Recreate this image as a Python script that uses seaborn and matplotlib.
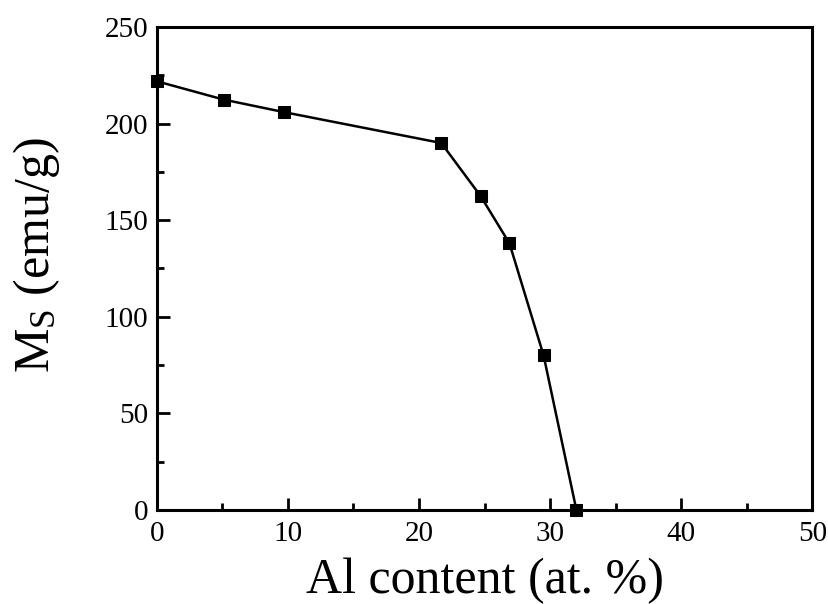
import matplotlib
matplotlib.use("Agg")
import matplotlib.pyplot as plt
import seaborn as sns
import pandas as pd
from matplotlib.ticker import MultipleLocator

al_content = [0.0, 5.1, 9.7, 21.7, 24.7, 26.9, 29.5, 32.0]
ms_values = [222.0, 212.5, 206.0, 190.0, 162.5, 138.0, 80.0, 0.0]

sns.set_theme(style="ticks")
plt.rcParams['font.family'] = ['Liberation Serif', 'DejaVu Serif']
plt.rcParams['mathtext.fontset'] = 'custom'
plt.rcParams['mathtext.rm'] = 'Liberation Serif'
plt.rcParams['mathtext.it'] = 'Liberation Serif'

df = pd.DataFrame({"x": al_content, "y": ms_values})

fig = plt.figure(figsize=(8.29, 6.04), dpi=100)
ax = fig.add_axes([0.189, 0.156, 0.791, 0.799])
sns.lineplot(data=df, x="x", y="y", ax=ax, color="black", linewidth=1.8,
             marker="s", markersize=8, markeredgecolor="black", markerfacecolor="black")

ax.set_xlim(0, 50)
ax.set_ylim(0, 250)
ax.xaxis.set_major_locator(MultipleLocator(10))
ax.xaxis.set_minor_locator(MultipleLocator(5))
ax.yaxis.set_major_locator(MultipleLocator(50))
ax.yaxis.set_minor_locator(MultipleLocator(25))
ax.tick_params(which='both', direction='in', top=False, right=False, width=2, colors='black',
               labelsize=21)
ax.tick_params(axis='x', pad=8)
ax.tick_params(axis='y', pad=6)
ax.tick_params(which='major', length=9)
ax.tick_params(which='minor', length=5)
for sp in ax.spines.values():
    sp.set_linewidth(2.2)
    sp.set_color('black')
    sp.set_visible(True)

ax.set_xlabel("Al content (at. %)", fontsize=36, color='black', labelpad=8)
ax.set_ylabel(r"M$_\mathregular{S}$ (emu/g)", fontsize=36, color='black')
ax.yaxis.set_label_coords(-0.145, 0.528)

for line in ax.lines:
    line.set_clip_on(False)

fig.savefig("out.png", dpi=100)
